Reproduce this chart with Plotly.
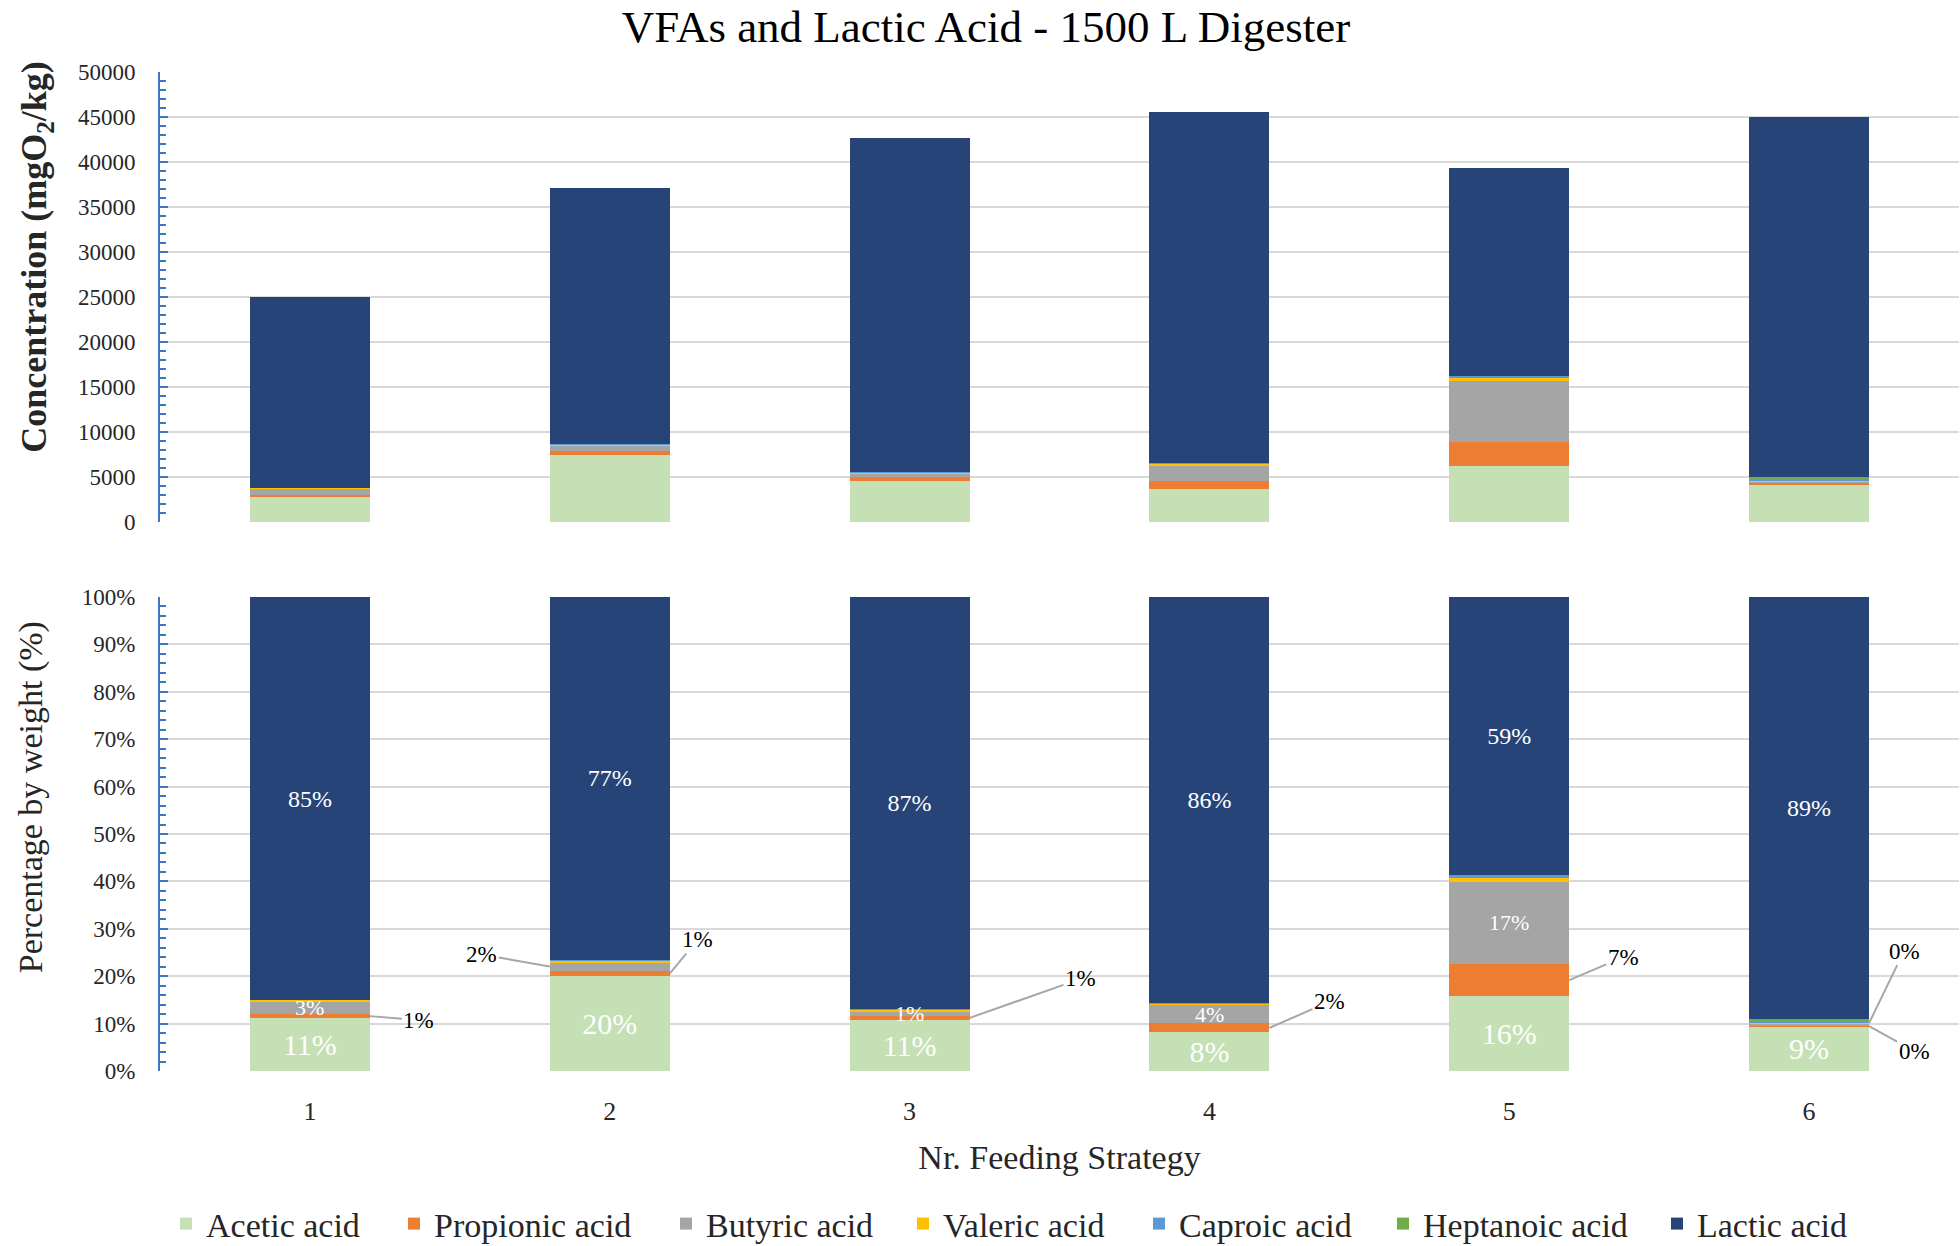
import plotly.graph_objects as go

# ---------------- data ----------------
feeding = [1, 2, 3, 4, 5, 6]
tick_labels = ["1", "2", "3", "4", "5", "6"]

acetic = [2800, 7400, 4600, 3700, 6200, 4200]
propionic = [200, 450, 350, 900, 2700, 150]
butyric = [700, 650, 450, 1700, 6800, 150]
valeric = [50, 150, 100, 200, 400, 100]
caproic = [0, 50, 50, 50, 150, 200]
heptanoic = [0, 0, 0, 0, 0, 150]
lactic = [21300, 28400, 37100, 39000, 23100, 40100]

series_names = ["Acetic acid", "Propionic acid", "Butyric acid", "Valeric acid",
                "Caproic acid", "Heptanoic acid", "Lactic acid"]
series_values = [acetic, propionic, butyric, valeric, caproic, heptanoic, lactic]
colors = ["#C5E0B4", "#ED7D31", "#A5A5A5", "#FFC000", "#5B9BD5", "#70AD47", "#264478"]
legend_widths = [183, 227, 192, 191, 199, 229, 160]

# series with inside bar labels in the percentage chart (label size)
inside_label_size = {"Acetic acid": 30, "Lactic acid": 24}
# butyric labels drawn over the bars (bar index)
butyric_inside = [0, 2, 3, 4]

# external (leader-line) labels: (bar index, series index, ax, ay, side)
external_labels = [
    (0, 1, 49, 4, 1),
    (1, 2, -68, -12, -1),
    (1, 1, 28, -34, 1),
    (2, 1, 111, -39, 1),
    (3, 1, 60, -26, 1),
    (4, 1, 54, -23, 1),
    (5, 3, 35, -72, 1),
    (5, 1, 45, 25, 1),
]

FONT = "Liberation Serif"
BAR_GAP = 0.6

totals = [sum(s[i] for s in series_values) for i in range(len(feeding))]
percents = [[100.0 * s[i] / totals[i] for i in range(len(feeding))] for s in series_values]

fig = go.Figure()

for name, vals, pct, col, lw in zip(series_names, series_values, percents, colors, legend_widths):
    fig.add_trace(go.Bar(
        x=feeding, y=vals, name=name, marker=dict(color=col, line=dict(width=0)),
        xaxis="x", yaxis="y", legendgroup=name, showlegend=True, legendwidth=lw,
        hoverinfo="skip"))
    kw = {}
    if name in inside_label_size:
        kw = dict(text=[f"{round(p)}%" for p in pct], textposition="inside",
                  insidetextanchor="middle", textangle=0, constraintext="none",
                  insidetextfont=dict(family=FONT, size=inside_label_size[name], color="white"))
    fig.add_trace(go.Bar(
        x=feeding, y=pct, name=name, marker=dict(color=col, line=dict(width=0)),
        xaxis="x2", yaxis="y2", legendgroup=name, showlegend=False, hoverinfo="skip", **kw))

# butyric labels (on top of the stack so they are not hidden)
for bi in butyric_inside:
    below = sum(percents[k][bi] for k in range(2))
    fig.add_annotation(
        x=feeding[bi], y=below + percents[2][bi] / 2, xref="x2", yref="y2",
        text=f"{round(percents[2][bi])}%", showarrow=False,
        font=dict(family=FONT, size=22, color="white"))

# leader-line labels
half_w = (1 - BAR_GAP) / 2
for bi, si, ax, ay, side in external_labels:
    below = sum(percents[k][bi] for k in range(si))
    ymid = below + percents[si][bi] / 2
    fig.add_annotation(
        x=feeding[bi] + side * half_w, y=ymid, xref="x2", yref="y2",
        text=f"{round(percents[si][bi])}%", showarrow=True, arrowhead=0,
        arrowwidth=2, arrowcolor="#A6A6A6", ax=ax, ay=ay, standoff=0,
        font=dict(family=FONT, size=23, color="#000000"))

# axis titles as annotations
fig.add_annotation(
    text="<b>Concentration (mgO<sub>2</sub>/kg)</b>", xref="paper", yref="paper",
    x=0, y=0.815, xshift=-123, showarrow=False, textangle=-90,
    font=dict(family=FONT, size=36, color="#262626"), xanchor="center", yanchor="middle")
fig.add_annotation(
    text="Percentage by weight (%)", xref="paper", yref="paper",
    x=0, y=0.274, xshift=-129, showarrow=False, textangle=-90,
    font=dict(family=FONT, size=34, color="#262626"), xanchor="center", yanchor="middle")

axis_blue = "#4472C4"
grid = "#D9D9D9"
tickfont = dict(family=FONT, size=23, color="#262626")

fig.update_layout(
    width=1960, height=1246,
    margin=dict(l=160, r=1, t=72, b=175),
    paper_bgcolor="white", plot_bgcolor="white",
    barmode="stack", bargap=BAR_GAP,
    title=dict(text="VFAs and Lactic Acid - 1500 L Digester",
               font=dict(family=FONT, size=45, color="#000000"),
               x=986 / 1960, xanchor="center", xref="container",
               y=1 - 26 / 1246, yanchor="middle", yref="container"),
    xaxis=dict(domain=[0, 1], range=[0.5, 6.5], anchor="y", showticklabels=False,
               showgrid=False, zeroline=False, showline=False, ticks=""),
    yaxis=dict(domain=[0.5495, 1], range=[0, 50000], dtick=5000, anchor="x",
               showgrid=True, gridcolor=grid, gridwidth=2, zeroline=False,
               showline=True, linecolor=axis_blue, linewidth=2,
               ticks="inside", ticklen=8, tickwidth=2, tickcolor=axis_blue,
               minor=dict(dtick=1000, ticks="inside", ticklen=6, tickwidth=2,
                          tickcolor=axis_blue, showgrid=False),
               tickfont=tickfont, ticklabelstandoff=18, tickformat="d"),
    xaxis2=dict(domain=[0, 1], range=[0.5, 6.5], anchor="y2",
                tickvals=feeding, ticktext=tick_labels,
                tickfont=dict(family=FONT, size=26, color="#262626"),
                showgrid=False, zeroline=False, showline=False, ticks="",
                ticklabelstandoff=22,
                title=dict(text="Nr. Feeding Strategy", standoff=20,
                           font=dict(family=FONT, size=34, color="#262626"))),
    yaxis2=dict(domain=[0, 0.4745], range=[0, 100], dtick=10, anchor="x2",
                ticksuffix="%",
                showgrid=True, gridcolor=grid, gridwidth=2, zeroline=False,
                showline=True, linecolor=axis_blue, linewidth=2,
                ticks="inside", ticklen=8, tickwidth=2, tickcolor=axis_blue,
                minor=dict(dtick=2, ticks="inside", ticklen=6, tickwidth=2,
                           tickcolor=axis_blue, showgrid=False),
                tickfont=tickfont, ticklabelstandoff=18),
    legend=dict(orientation="h", xref="container", yref="container",
                x=166 / 1960, xanchor="left", y=1 - 1224 / 1246, yanchor="middle",
                font=dict(family=FONT, size=34, color="#262626"),
                traceorder="normal", itemwidth=30, bgcolor="rgba(0,0,0,0)"),
    showlegend=True,
)

fig.write_html("out.html", config={"displayModeBar": False},
               post_script="document.body.style.margin='0';")
